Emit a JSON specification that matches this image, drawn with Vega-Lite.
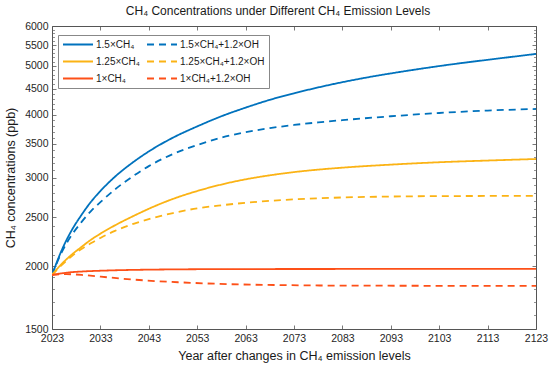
{
  "$schema": "https://vega.github.io/schema/vega-lite/v6.json",
  "width": 484,
  "height": 303,
  "autosize": "none",
  "padding": {"left": 52, "top": 26, "right": 14, "bottom": 44},
  "background": "white",
  "config": {
    "font": "Liberation Sans",
    "view": {"stroke": null},
    "axis": {"grid": false}
  },
  "title": {
    "text": "CH₄ Concentrations under Different CH₄ Emission Levels",
    "fontSize": 12,
    "fontWeight": "normal",
    "color": "#1a1a1a",
    "offset": 3,
    "dx": -16,
    "font": "Liberation Sans"
  },
  "data": {
    "values": [
      {"year": 2023, "value": 1921, "series": "1.5×CH₄"},
      {"year": 2025, "value": 2150, "series": "1.5×CH₄"},
      {"year": 2027, "value": 2350, "series": "1.5×CH₄"},
      {"year": 2029, "value": 2520, "series": "1.5×CH₄"},
      {"year": 2031, "value": 2680, "series": "1.5×CH₄"},
      {"year": 2033, "value": 2820, "series": "1.5×CH₄"},
      {"year": 2036, "value": 3010, "series": "1.5×CH₄"},
      {"year": 2040, "value": 3230, "series": "1.5×CH₄"},
      {"year": 2043, "value": 3380, "series": "1.5×CH₄"},
      {"year": 2048, "value": 3600, "series": "1.5×CH₄"},
      {"year": 2053, "value": 3790, "series": "1.5×CH₄"},
      {"year": 2058, "value": 3970, "series": "1.5×CH₄"},
      {"year": 2063, "value": 4130, "series": "1.5×CH₄"},
      {"year": 2068, "value": 4280, "series": "1.5×CH₄"},
      {"year": 2073, "value": 4410, "series": "1.5×CH₄"},
      {"year": 2078, "value": 4530, "series": "1.5×CH₄"},
      {"year": 2083, "value": 4640, "series": "1.5×CH₄"},
      {"year": 2088, "value": 4740, "series": "1.5×CH₄"},
      {"year": 2093, "value": 4830, "series": "1.5×CH₄"},
      {"year": 2098, "value": 4915, "series": "1.5×CH₄"},
      {"year": 2103, "value": 4995, "series": "1.5×CH₄"},
      {"year": 2108, "value": 5070, "series": "1.5×CH₄"},
      {"year": 2113, "value": 5140, "series": "1.5×CH₄"},
      {"year": 2118, "value": 5210, "series": "1.5×CH₄"},
      {"year": 2123, "value": 5280, "series": "1.5×CH₄"},

      {"year": 2023, "value": 1921, "series": "1.5×CH₄+1.2×OH"},
      {"year": 2025, "value": 2130, "series": "1.5×CH₄+1.2×OH"},
      {"year": 2027, "value": 2300, "series": "1.5×CH₄+1.2×OH"},
      {"year": 2029, "value": 2440, "series": "1.5×CH₄+1.2×OH"},
      {"year": 2031, "value": 2570, "series": "1.5×CH₄+1.2×OH"},
      {"year": 2033, "value": 2680, "series": "1.5×CH₄+1.2×OH"},
      {"year": 2036, "value": 2840, "series": "1.5×CH₄+1.2×OH"},
      {"year": 2040, "value": 3030, "series": "1.5×CH₄+1.2×OH"},
      {"year": 2043, "value": 3160, "series": "1.5×CH₄+1.2×OH"},
      {"year": 2048, "value": 3340, "series": "1.5×CH₄+1.2×OH"},
      {"year": 2053, "value": 3480, "series": "1.5×CH₄+1.2×OH"},
      {"year": 2058, "value": 3600, "series": "1.5×CH₄+1.2×OH"},
      {"year": 2063, "value": 3690, "series": "1.5×CH₄+1.2×OH"},
      {"year": 2068, "value": 3760, "series": "1.5×CH₄+1.2×OH"},
      {"year": 2073, "value": 3815, "series": "1.5×CH₄+1.2×OH"},
      {"year": 2078, "value": 3860, "series": "1.5×CH₄+1.2×OH"},
      {"year": 2083, "value": 3900, "series": "1.5×CH₄+1.2×OH"},
      {"year": 2093, "value": 3970, "series": "1.5×CH₄+1.2×OH"},
      {"year": 2103, "value": 4030, "series": "1.5×CH₄+1.2×OH"},
      {"year": 2113, "value": 4075, "series": "1.5×CH₄+1.2×OH"},
      {"year": 2123, "value": 4105, "series": "1.5×CH₄+1.2×OH"},

      {"year": 2023, "value": 1921, "series": "1.25×CH₄"},
      {"year": 2025, "value": 2020, "series": "1.25×CH₄"},
      {"year": 2027, "value": 2105, "series": "1.25×CH₄"},
      {"year": 2029, "value": 2180, "series": "1.25×CH₄"},
      {"year": 2031, "value": 2255, "series": "1.25×CH₄"},
      {"year": 2033, "value": 2320, "series": "1.25×CH₄"},
      {"year": 2036, "value": 2410, "series": "1.25×CH₄"},
      {"year": 2040, "value": 2520, "series": "1.25×CH₄"},
      {"year": 2043, "value": 2600, "series": "1.25×CH₄"},
      {"year": 2048, "value": 2720, "series": "1.25×CH₄"},
      {"year": 2053, "value": 2820, "series": "1.25×CH₄"},
      {"year": 2058, "value": 2905, "series": "1.25×CH₄"},
      {"year": 2063, "value": 2975, "series": "1.25×CH₄"},
      {"year": 2068, "value": 3030, "series": "1.25×CH₄"},
      {"year": 2073, "value": 3075, "series": "1.25×CH₄"},
      {"year": 2078, "value": 3110, "series": "1.25×CH₄"},
      {"year": 2083, "value": 3138, "series": "1.25×CH₄"},
      {"year": 2093, "value": 3182, "series": "1.25×CH₄"},
      {"year": 2103, "value": 3217, "series": "1.25×CH₄"},
      {"year": 2113, "value": 3242, "series": "1.25×CH₄"},
      {"year": 2123, "value": 3265, "series": "1.25×CH₄"},

      {"year": 2023, "value": 1921, "series": "1.25×CH₄+1.2×OH"},
      {"year": 2025, "value": 2010, "series": "1.25×CH₄+1.2×OH"},
      {"year": 2027, "value": 2090, "series": "1.25×CH₄+1.2×OH"},
      {"year": 2029, "value": 2160, "series": "1.25×CH₄+1.2×OH"},
      {"year": 2031, "value": 2220, "series": "1.25×CH₄+1.2×OH"},
      {"year": 2033, "value": 2275, "series": "1.25×CH₄+1.2×OH"},
      {"year": 2036, "value": 2350, "series": "1.25×CH₄+1.2×OH"},
      {"year": 2040, "value": 2430, "series": "1.25×CH₄+1.2×OH"},
      {"year": 2043, "value": 2480, "series": "1.25×CH₄+1.2×OH"},
      {"year": 2048, "value": 2550, "series": "1.25×CH₄+1.2×OH"},
      {"year": 2053, "value": 2605, "series": "1.25×CH₄+1.2×OH"},
      {"year": 2058, "value": 2642, "series": "1.25×CH₄+1.2×OH"},
      {"year": 2063, "value": 2672, "series": "1.25×CH₄+1.2×OH"},
      {"year": 2068, "value": 2696, "series": "1.25×CH₄+1.2×OH"},
      {"year": 2073, "value": 2715, "series": "1.25×CH₄+1.2×OH"},
      {"year": 2078, "value": 2728, "series": "1.25×CH₄+1.2×OH"},
      {"year": 2083, "value": 2738, "series": "1.25×CH₄+1.2×OH"},
      {"year": 2093, "value": 2750, "series": "1.25×CH₄+1.2×OH"},
      {"year": 2103, "value": 2755, "series": "1.25×CH₄+1.2×OH"},
      {"year": 2113, "value": 2757, "series": "1.25×CH₄+1.2×OH"},
      {"year": 2123, "value": 2758, "series": "1.25×CH₄+1.2×OH"},

      {"year": 2023, "value": 1921, "series": "1×CH₄"},
      {"year": 2025, "value": 1935, "series": "1×CH₄"},
      {"year": 2027, "value": 1945, "series": "1×CH₄"},
      {"year": 2030, "value": 1953, "series": "1×CH₄"},
      {"year": 2035, "value": 1961, "series": "1×CH₄"},
      {"year": 2040, "value": 1966, "series": "1×CH₄"},
      {"year": 2045, "value": 1969, "series": "1×CH₄"},
      {"year": 2050, "value": 1971, "series": "1×CH₄"},
      {"year": 2060, "value": 1973, "series": "1×CH₄"},
      {"year": 2080, "value": 1974, "series": "1×CH₄"},
      {"year": 2123, "value": 1975, "series": "1×CH₄"},

      {"year": 2023, "value": 1921, "series": "1×CH₄+1.2×OH"},
      {"year": 2026, "value": 1928, "series": "1×CH₄+1.2×OH"},
      {"year": 2030, "value": 1918, "series": "1×CH₄+1.2×OH"},
      {"year": 2035, "value": 1898, "series": "1×CH₄+1.2×OH"},
      {"year": 2040, "value": 1880, "series": "1×CH₄+1.2×OH"},
      {"year": 2045, "value": 1866, "series": "1×CH₄+1.2×OH"},
      {"year": 2050, "value": 1856, "series": "1×CH₄+1.2×OH"},
      {"year": 2060, "value": 1841, "series": "1×CH₄+1.2×OH"},
      {"year": 2070, "value": 1834, "series": "1×CH₄+1.2×OH"},
      {"year": 2080, "value": 1830, "series": "1×CH₄+1.2×OH"},
      {"year": 2100, "value": 1828, "series": "1×CH₄+1.2×OH"},
      {"year": 2123, "value": 1827, "series": "1×CH₄+1.2×OH"}
    ]
  },
  "resolve": {"axis": {"x": "independent", "y": "independent"}},
  "layer": [
    {
      "mark": {"type": "line", "strokeWidth": 1.8, "interpolate": "monotone", "clip": true},
      "encoding": {
        "x": {
          "field": "year", "type": "quantitative",
          "scale": {"domain": [2023, 2123], "nice": false, "zero": false},
          "axis": {
            "orient": "bottom",
            "values": [2023, 2033, 2043, 2053, 2063, 2073, 2083, 2093, 2103, 2113, 2123],
            "format": "d",
            "title": "Year after changes in CH₄ emission levels",
            "titleFont": "Liberation Sans", "titleFontSize": 12.5, "titleFontWeight": "normal", "titleColor": "#1a1a1a",
            "titlePadding": 6,
            "labelFont": "Liberation Sans", "labelFontSize": 10.5, "labelColor": "#262626",
            "labelPadding": 8, "labelFlush": false,
            "tickSize": -4, "tickColor": "#555", "tickWidth": 0.8,
            "domainColor": "#555", "domainWidth": 1
          }
        },
        "y": {
          "field": "value", "type": "quantitative",
          "scale": {"type": "log", "domain": [1500, 6000], "nice": false},
          "axis": {
            "orient": "left",
            "values": [1500, 2000, 2500, 3000, 3500, 4000, 4500, 5000, 5500, 6000],
            "format": "d",
            "title": "CH₄ concentrations (ppb)",
            "titleFont": "Liberation Sans", "titleFontSize": 12.5, "titleFontWeight": "normal", "titleColor": "#1a1a1a",
            "titlePadding": 7,
            "labelFont": "Liberation Sans", "labelFontSize": 10.5, "labelColor": "#262626",
            "labelPadding": 8, "labelFlush": false,
            "tickSize": -4, "tickColor": "#555", "tickWidth": 0.8,
            "domainColor": "#555", "domainWidth": 1
          }
        },
        "color": {
          "field": "series", "type": "nominal",
          "scale": {
            "domain": ["1.5×CH₄", "1.5×CH₄+1.2×OH", "1.25×CH₄", "1.25×CH₄+1.2×OH", "1×CH₄", "1×CH₄+1.2×OH"],
            "range": ["#0072BD", "#0072BD", "#FBB315", "#FBB315", "#FD5018", "#FD5018"]
          },
          "legend": {
            "orient": "none",
            "legendX": 6,
            "legendY": 9,
            "columns": 2,
            "direction": "horizontal",
            "title": null,
            "symbolType": "stroke",
            "symbolSize": 900,
            "symbolStrokeWidth": 1.8,
            "labelFont": "Liberation Sans",
            "labelFontSize": 10,
            "labelColor": "#1a1a1a",
            "labelOffset": 2,
            "clipHeight": 11,
            "rowPadding": 6,
            "columnPadding": 6,
            "padding": 4,
            "strokeColor": "#888",
            "fillColor": "white"
          }
        },
        "strokeDash": {
          "field": "series", "type": "nominal",
          "scale": {
            "domain": ["1.5×CH₄", "1.5×CH₄+1.2×OH", "1.25×CH₄", "1.25×CH₄+1.2×OH", "1×CH₄", "1×CH₄+1.2×OH"],
            "range": [[1, 0], [7, 5], [1, 0], [7, 5], [1, 0], [7, 5]]
          },
          "legend": {
            "orient": "none",
            "legendX": 6,
            "legendY": 9,
            "columns": 2,
            "direction": "horizontal",
            "title": null,
            "symbolType": "stroke",
            "symbolSize": 900,
            "symbolStrokeWidth": 1.8,
            "labelFont": "Liberation Sans",
            "labelFontSize": 10,
            "labelColor": "#1a1a1a",
            "labelOffset": 2,
            "clipHeight": 11,
            "rowPadding": 6,
            "columnPadding": 6,
            "padding": 4,
            "strokeColor": "#888",
            "fillColor": "white"
          }
        }
      }
    },
    {
      "mark": {"type": "point", "opacity": 0},
      "encoding": {
        "x": {
          "field": "year", "type": "quantitative",
          "axis": {
            "orient": "top", "labels": false, "title": null,
            "values": [2023, 2033, 2043, 2053, 2063, 2073, 2083, 2093, 2103, 2113, 2123],
            "tickSize": -4, "tickColor": "#555", "tickWidth": 0.8,
            "domainColor": "#555", "domainWidth": 1
          }
        },
        "y": {
          "field": "value", "type": "quantitative",
          "axis": {
            "orient": "right", "labels": false, "title": null,
            "values": [1500, 2000, 2500, 3000, 3500, 4000, 4500, 5000, 5500, 6000],
            "tickSize": -4, "tickColor": "#555", "tickWidth": 0.8,
            "domainColor": "#555", "domainWidth": 1
          }
        }
      }
    },
    {
      "mark": {"type": "point", "opacity": 0},
      "encoding": {
        "x": {"field": "year", "type": "quantitative", "axis": null},
        "y": {
          "field": "value", "type": "quantitative",
          "axis": {
            "orient": "left", "labels": false, "title": null, "domain": false,
            "values": [1600, 1700, 1800, 1900, 2100, 2200, 2300, 2400, 2600, 2700, 2800, 2900, 3100, 3200, 3300, 3400, 3600, 3700, 3800, 3900, 4100, 4200, 4300, 4400, 4600, 4700, 4800, 4900, 5100, 5200, 5300, 5400, 5600, 5700, 5800, 5900],
            "tickSize": -2.5, "tickColor": "#666", "tickWidth": 0.7
          }
        }
      }
    },
    {
      "mark": {"type": "point", "opacity": 0},
      "encoding": {
        "x": {"field": "year", "type": "quantitative", "axis": null},
        "y": {
          "field": "value", "type": "quantitative",
          "axis": {
            "orient": "right", "labels": false, "title": null, "domain": false,
            "values": [1600, 1700, 1800, 1900, 2100, 2200, 2300, 2400, 2600, 2700, 2800, 2900, 3100, 3200, 3300, 3400, 3600, 3700, 3800, 3900, 4100, 4200, 4300, 4400, 4600, 4700, 4800, 4900, 5100, 5200, 5300, 5400, 5600, 5700, 5800, 5900],
            "tickSize": -2.5, "tickColor": "#666", "tickWidth": 0.7
          }
        }
      }
    }
  ]
}
